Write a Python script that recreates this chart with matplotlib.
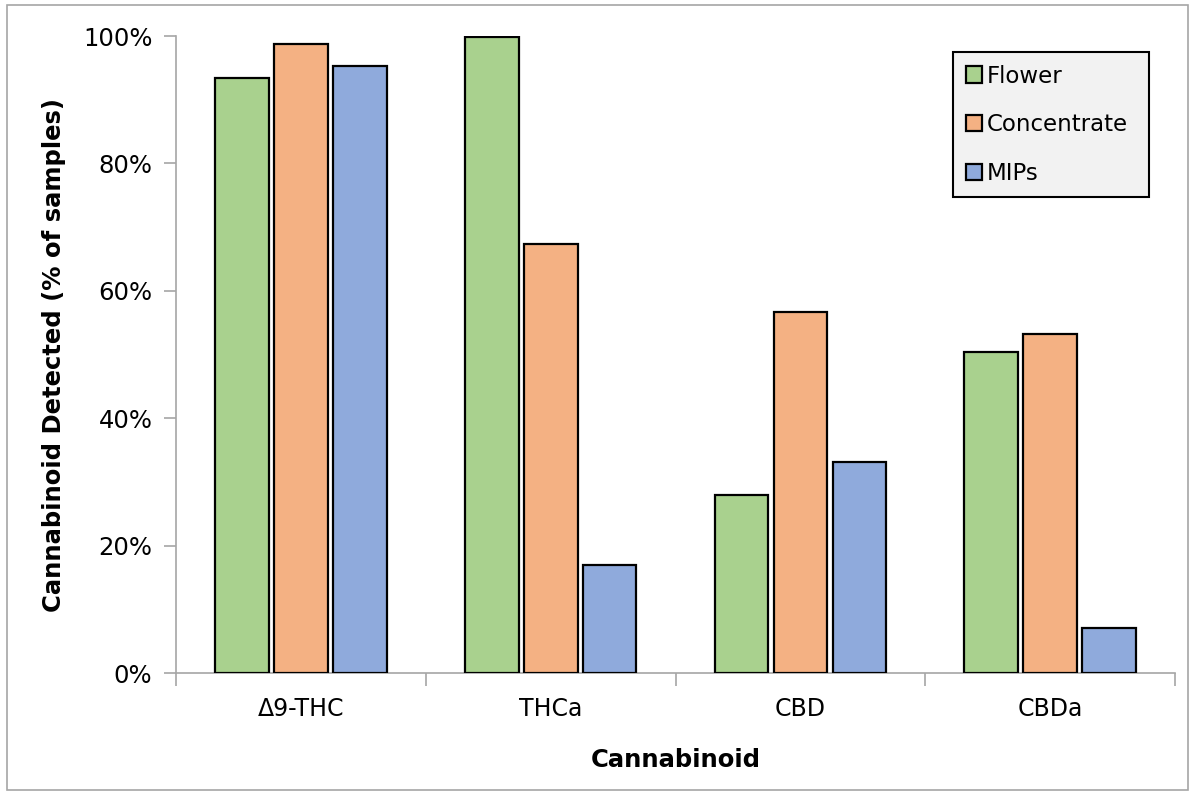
import numpy as np
import matplotlib.pyplot as plt
from matplotlib.patches import Rectangle
from matplotlib.ticker import PercentFormatter

# detection frequency per cannabinoid, by product type
cannabinoids = ["\u03949-THC", "THCa", "CBD", "CBDa"]
flower = [93.4, 99.8, 27.9, 50.4]
concentrate = [98.7, 67.3, 56.7, 53.2]
mips = [95.3, 17.0, 33.1, 7.1]

series = [("Flower", flower, "#a9d18e"),
          ("Concentrate", concentrate, "#f4b183"),
          ("MIPs", mips, "#8faadc")]

plt.rcParams['font.family'] = ['DejaVu Sans']

fig = plt.figure(figsize=(11.95, 7.93), dpi=100)
ax = fig.add_axes([0.1473, 0.1513, 0.836, 0.8033])

# outer frame around the whole chart
fig.patches.append(Rectangle((0.006, 0.004), 0.988, 0.99, transform=fig.transFigure,
                             fill=False, edgecolor="#a6a6a6", linewidth=1.2))

x = np.arange(len(cannabinoids))
width = 0.215
step = 0.236
for i, (name, vals, color) in enumerate(series):
    ax.bar(x + (i - 1) * step, vals, width, color=color, edgecolor="black",
           linewidth=1.6, label=name, zorder=3)

ax.set_xlim(-0.5, len(cannabinoids) - 0.5)
ax.set_ylim(0, 100)
ax.set_yticks(np.arange(0, 101, 20))
ax.yaxis.set_major_formatter(PercentFormatter(decimals=0))

ax.set_xticks(x)
ax.set_xticklabels(cannabinoids)
ax.set_xticks(np.arange(-0.5, len(cannabinoids), 1), minor=True)
ax.tick_params(axis="x", which="major", length=0, pad=17, labelsize=17)
ax.tick_params(axis="x", which="minor", length=9, color="#a6a6a6", width=1.2)
ax.tick_params(axis="y", length=9, color="#a6a6a6", width=1.2, pad=8, labelsize=17.5)

for side in ["top", "right"]:
    ax.spines[side].set_visible(False)
for side in ["left", "bottom"]:
    ax.spines[side].set_color("#a6a6a6")
    ax.spines[side].set_linewidth(1.2)

ax.set_xlabel("Cannabinoid", fontsize=17.5, fontweight="bold", labelpad=20)
ax.set_ylabel("Cannabinoid Detected (% of samples)", fontsize=17.5,
              fontweight="bold", labelpad=12)

leg = ax.legend(loc="upper left", bbox_to_anchor=(0.7778, 0.975, 0.1962, 0.0),
                mode="expand", fontsize=16.5,
                frameon=True, fancybox=False, handlelength=0.7, handleheight=0.7,
                handletextpad=0.2, labelspacing=1.12, borderpad=0.55,
                borderaxespad=0)
leg.get_frame().set_facecolor("#f2f2f2")
leg.get_frame().set_edgecolor("black")
leg.get_frame().set_linewidth(1.5)
leg.get_frame().set_alpha(1)

fig.savefig("out.png", dpi=100)
